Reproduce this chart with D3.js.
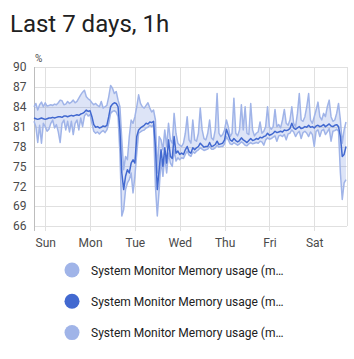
<!DOCTYPE html>
<html>
<head>
<meta charset="utf-8">
<title>Last 7 days, 1h</title>
<script src="https://d3js.org/d3.v7.min.js"></script>
<style>
  body { margin: 0; background: #fff; font-family: Roboto, "Noto Sans", sans-serif; }
  svg { display: block; }
</style>
</head>
<body>
<svg id="chart"></svg>
<script>
const title = "Last 7 days, 1h";
const unit = "%";
const startTime = new Date(2024, 0, 6, 18); // Sat 18:00, one point per hour
const yTicks = [66, 69, 72, 75, 78, 81, 84, 87, 90];
const seriesNames = [
    "System Monitor Memory usage (min)",
    "System Monitor Memory usage (mean)",
    "System Monitor Memory usage (max)"
];
const legendChars = 30; // legend labels are cut off after this many characters

// hourly statistics, Sat 18:00 -> Sat 17:00
const minValues = [
    81.8, 81.0, 78.6, 81.2, 78.5, 81.5,
    81.0, 80.3, 80.6, 81.5, 82.0, 80.8, 81.3, 80.2, 78.6, 81.5, 82.0, 80.5,
    81.8, 80.2, 81.8, 79.8, 81.5, 82.0, 80.5, 82.3, 81.0, 82.6, 83.0, 82.6,
    82.8, 81.5, 80.3, 80.0, 80.2, 79.9, 80.2, 80.4, 80.1, 80.5, 81.5, 83.0,
    83.3, 83.4, 83.2, 82.5, 77.0, 67.5, 68.5, 71.5, 72.5, 73.0, 74.0, 71.0,
    73.5, 77.0, 80.0, 80.2, 80.4, 80.5, 80.8, 80.9, 81.2, 81.0, 81.3, 72.0,
    67.5, 71.5, 76.0, 73.5, 76.5, 74.0, 77.0, 75.5, 75.0, 77.5, 75.8, 76.3,
    76.0, 76.3, 76.2, 76.8, 77.3, 76.7, 76.5, 77.2, 77.0, 77.3, 77.5, 77.8,
    77.6, 77.4, 77.5, 77.6, 78.0, 77.6, 77.6, 77.8, 78.2, 77.9, 78.0, 78.0,
    78.4, 79.5, 79.0, 78.4, 78.3, 78.6, 78.4, 78.2, 78.4, 78.7, 78.5, 78.2,
    78.1, 78.4, 78.6, 78.4, 78.5, 78.6, 78.5, 78.8, 78.7, 78.2, 79.0, 79.3,
    79.1, 79.2, 79.4, 79.6, 78.8, 79.6, 79.7, 79.5, 79.8, 79.0, 79.9, 80.0,
    80.5, 80.2, 79.5, 80.0, 80.3, 79.2, 80.1, 80.3, 80.0, 79.5, 80.2, 79.8,
    78.0, 80.3, 80.5, 79.5, 80.4, 80.6, 79.8, 80.2, 80.7, 78.8, 80.3, 80.4,
    80.6, 80.3, 74.0, 70.0, 72.5, 73.0
];
const meanValues = [
    82.3, 82.2, 82.1, 82.2, 82.3, 82.2,
    82.1, 82.2, 82.3, 82.3, 82.4, 82.3, 82.4, 82.5, 82.5, 82.4, 82.6, 82.6,
    82.5, 82.6, 82.7, 82.6, 82.7, 82.8, 82.7, 82.9, 83.0, 83.2, 83.5, 83.3,
    83.4, 82.5, 81.3, 80.9, 81.0, 80.8, 80.9, 81.1, 81.0, 81.2, 82.5, 84.0,
    84.4, 84.6, 84.5, 84.0, 80.5, 74.0, 71.5, 73.5, 74.5, 74.0, 75.5, 76.0,
    75.5, 79.5, 80.5, 80.8, 81.0, 81.2, 81.5, 81.4, 81.7, 81.6, 81.8, 78.0,
    71.5, 74.5, 77.5, 75.0, 77.8, 75.5, 79.0, 76.5, 76.2, 79.5, 77.0, 77.3,
    76.8, 77.0, 76.8, 77.5, 78.0, 77.2, 77.0, 77.8, 77.5, 77.8, 78.0, 78.5,
    78.2, 77.9, 78.0, 78.0, 78.6, 78.0, 78.1, 78.3, 78.8, 78.3, 78.4, 78.5,
    79.0, 80.6, 79.8, 79.0, 78.8, 79.2, 78.9, 78.7, 78.9, 79.3, 79.0, 78.8,
    78.6, 78.9, 79.2, 78.9, 79.0, 79.2, 79.1, 79.4, 79.3, 79.5, 79.6, 80.0,
    79.7, 79.8, 80.0, 80.3, 80.1, 80.2, 80.3, 80.2, 80.5, 80.4, 80.5, 80.7,
    81.5, 80.8, 80.6, 80.8, 81.0, 80.7, 80.8, 81.0, 80.9, 81.2, 80.9, 81.0,
    80.8, 81.1, 81.2, 81.0, 81.1, 81.3, 81.0, 81.2, 81.4, 81.1, 81.0, 81.2,
    81.3, 81.0, 79.5, 76.5, 76.8, 78.0
];
const maxValues = [
    84.0, 84.5, 83.5, 84.3, 84.7, 84.0,
    84.6, 84.1, 84.2, 84.3, 84.2, 84.4, 84.3, 84.6, 85.0, 84.9, 84.3, 84.4,
    84.8, 84.5, 84.7, 85.0, 84.6, 84.8, 85.3, 85.8, 86.2, 86.5, 85.5, 85.2,
    85.0, 84.6, 84.3, 84.5, 84.2, 84.0, 84.8, 83.8, 84.0, 84.2, 85.5, 87.2,
    86.8, 86.0, 86.3, 85.0, 84.0, 79.0, 74.5, 76.5, 76.0, 79.5, 82.0, 81.5,
    82.5, 84.0, 85.8, 84.5, 84.0, 83.8, 84.2, 84.6, 83.8, 83.2, 83.5, 82.0,
    74.0, 79.5, 79.0, 77.5, 80.5, 78.0, 81.5, 79.0, 78.5, 83.0, 80.0, 78.5,
    78.2, 78.0, 78.5, 80.0, 82.5, 79.0, 78.5, 82.0, 79.0, 78.8, 80.0, 83.8,
    80.5, 79.2, 79.0, 80.0, 82.0, 79.3, 79.0, 80.5, 86.0, 80.0, 79.5, 79.8,
    80.5, 82.0, 81.0, 79.5, 80.0, 85.3, 80.0, 79.6, 80.5, 84.3, 80.5, 84.0,
    80.0, 79.8, 84.5, 80.5, 79.6, 80.0, 80.2, 81.7, 80.0, 80.3, 81.0, 84.0,
    81.0, 80.6, 81.0, 83.6, 81.0, 81.3, 80.8, 82.0, 83.6, 81.5, 81.2, 82.0,
    84.0, 81.5, 81.0, 83.0, 86.0, 82.0, 81.8, 82.5, 84.0, 86.0, 82.0, 81.5,
    82.5, 83.5, 84.7, 82.5, 82.0, 83.0, 82.5, 84.0, 85.0, 82.5, 81.8, 82.0,
    83.0, 84.5, 82.0, 78.5, 80.5, 81.7
];

const width = 354, height = 359;
const plot = { left: 34, right: 346, top: 67, bottom: 226 };
const mainColor = "#4269d0";
const lightColor = "#a0b4e8";

const svg = d3.select("#chart").attr("width", width).attr("height", height);

const times = meanValues.map((d, i) => d3.timeHour.offset(startTime, i));
const data = times.map((t, i) => ({ t, min: minValues[i], mean: meanValues[i], max: maxValues[i] }));

const x = d3.scaleTime()
    .domain([times[0], times[times.length - 1]])
    .range([plot.left, plot.right]);
const y = d3.scaleLinear()
    .domain([66, 90])
    .range([plot.bottom, plot.top]);

// title
svg.append("text")
    .attr("x", 10).attr("y", 32)
    .attr("font-size", 24)
    .attr("fill", "#212121")
    .text(title);

// horizontal grid
svg.append("g")
    .selectAll("line")
    .data(yTicks)
    .join("line")
    .attr("x1", plot.left).attr("x2", plot.right + 1)
    .attr("y1", d => Math.round(y(d)) + 0.5).attr("y2", d => Math.round(y(d)) + 0.5)
    .attr("stroke", "#e0e0e0");

// vertical grid at day starts
const days = d3.timeDay.range(d3.timeDay.ceil(times[0]), times[times.length - 1]);
svg.append("g")
    .selectAll("line")
    .data(days)
    .join("line")
    .attr("x1", d => Math.round(x(d)) + 0.5).attr("x2", d => Math.round(x(d)) + 0.5)
    .attr("y1", plot.top).attr("y2", plot.bottom + 5)
    .attr("stroke", "#e0e0e0");

svg.append("line")
    .attr("x1", plot.right + 1.5).attr("x2", plot.right + 1.5)
    .attr("y1", plot.top).attr("y2", plot.bottom)
    .attr("stroke", "#e0e0e0");

// y axis
const yAxis = svg.append("g")
    .attr("transform", `translate(${plot.left + 0.5},0)`)
    .call(d3.axisLeft(y).tickValues(yTicks).tickSize(0).tickPadding(8));
yAxis.select(".domain").attr("stroke", "#bdbdbd").attr("d", `M0,${plot.top}V${plot.bottom + 5}`);
yAxis.selectAll("text").attr("font-size", 12).attr("font-family", "Roboto").attr("fill", "#4a4a4a");

svg.append("text")
    .attr("x", 35).attr("y", 62)
    .attr("font-size", 10)
    .attr("fill", "#4a4a4a")
    .text(unit);

// x axis labels
const xAxis = svg.append("g")
    .attr("transform", `translate(0,${plot.bottom})`)
    .call(d3.axisBottom(x).tickValues(days).tickFormat(d3.timeFormat("%a")).tickSize(0).tickPadding(12));
xAxis.select(".domain").remove();
xAxis.selectAll("text").attr("font-size", 12).attr("font-family", "Roboto").attr("fill", "#4a4a4a");

// min/max band
svg.append("path")
    .datum(data)
    .attr("fill", mainColor)
    .attr("fill-opacity", 0.18)
    .attr("d", d3.area().x(d => x(d.t)).y0(d => y(d.min)).y1(d => y(d.max)));

const line = key => d3.line().x(d => x(d.t)).y(d => y(d[key]));

svg.append("path").datum(data)
    .attr("fill", "none").attr("stroke", lightColor).attr("stroke-width", 1.5)
    .attr("stroke-linejoin", "round")
    .attr("d", line("min"));
svg.append("path").datum(data)
    .attr("fill", "none").attr("stroke", lightColor).attr("stroke-width", 1.5)
    .attr("stroke-linejoin", "round")
    .attr("d", line("max"));
svg.append("path").datum(data)
    .attr("fill", "none").attr("stroke", mainColor).attr("stroke-width", 1.5)
    .attr("stroke-linejoin", "round")
    .attr("d", line("mean"));

// legend
const legendColors = [lightColor, mainColor, lightColor];
const legend = svg.append("g")
    .selectAll("g")
    .data(seriesNames)
    .join("g")
    .attr("transform", (d, i) => `translate(72,${270 + i * 31.3})`);
legend.append("circle")
    .attr("r", 7.5)
    .attr("fill", (d, i) => legendColors[i]);
legend.append("text")
    .attr("x", 19).attr("y", 4.5)
    .attr("font-size", 12)
    .attr("fill", "#212121")
    .text(d => d.length > legendChars ? d.slice(0, legendChars) + "…" : d);
</script>
</body>
</html>
